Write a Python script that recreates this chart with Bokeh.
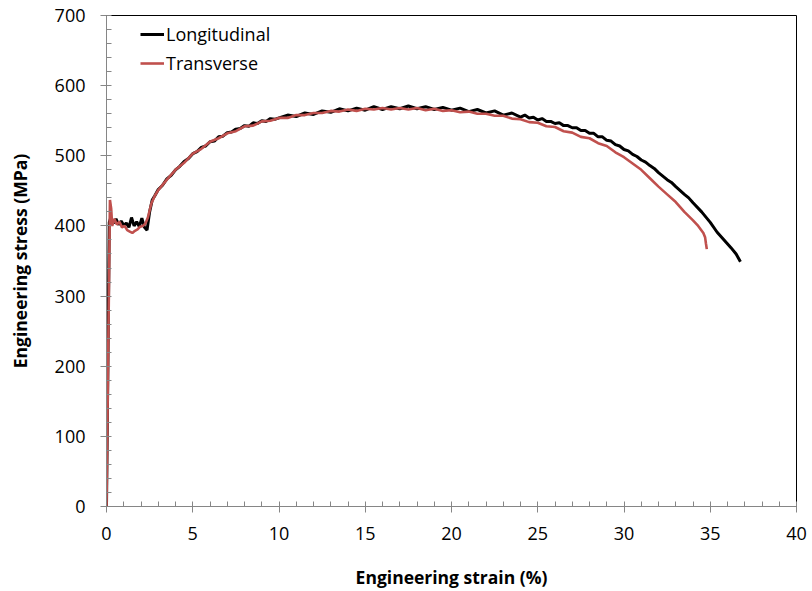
from bokeh.plotting import figure
from bokeh.models import Range1d, Legend, LegendItem, FixedTicker
from bokeh.embed import file_html
from bokeh.resources import INLINE

# Longitudinal (black)
long_strain = [0, 0.08, 0.16, 0.25, 0.4, 0.55, 0.7, 0.85, 1.0, 1.15, 1.3, 1.45, 1.6, 1.75, 1.9,
               2.05, 2.2, 2.35, 2.5, 2.65, 2.8, 3.0, 3.25, 3.5, 3.75, 4.0, 4.25, 4.5, 4.75, 5.0,
               5.25, 5.5, 5.75, 6.0, 6.25, 6.5, 6.75, 7.0, 7.25, 7.5, 7.75, 8.0, 8.25, 8.5, 8.75,
               9.0, 9.25, 9.5, 9.75, 10.0, 10.5, 11.0, 11.5, 12.0, 12.5, 13.0, 13.5, 14.0, 14.5,
               15.0, 15.5, 16.0, 16.5, 17.0, 17.5, 18.0, 18.5, 19.0, 19.5, 20.0, 20.5, 21.0, 21.5,
               22.0, 22.5, 23.0, 23.5,
               24.0, 24.25, 24.5, 24.75, 25.0, 25.25, 25.5, 25.75, 26.0, 26.25, 26.5, 26.75,
               27.0, 27.25, 27.5, 27.75, 28.0, 28.25, 28.5, 28.75, 29.0, 29.25, 29.5, 29.75,
               30.0, 30.25, 30.5, 30.75, 31.0, 31.25, 31.5, 31.75, 32.0, 32.5, 32.75, 33.0,
               33.5, 33.75, 34.0, 34.5, 35.0, 35.4, 35.8, 36.2, 36.5, 36.75]
long_stress = [0, 200, 405, 412, 404, 410, 402, 407, 401, 404, 398, 412, 400, 406, 399,
               411, 398, 394, 420, 437, 443, 452, 458, 467, 472, 480, 485, 492, 496, 503,
               506, 512, 514, 520, 521, 527, 528, 533, 534, 538, 539, 543, 542, 547, 546,
               550, 549, 553, 552, 554, 558, 556, 561, 559, 564, 562, 567, 564, 568,
               565, 570, 566, 570, 567, 571, 567, 570, 566, 569, 565, 568, 563, 566,
               561, 564, 558, 561,
               555, 558, 554, 555, 551, 553, 549, 549, 546, 547, 543, 543,
               540, 540, 536, 536, 532, 532, 527, 527, 522, 521, 516, 514,
               509, 507, 502, 499, 494, 491, 486, 482, 476, 466, 462, 456,
               445, 440, 433, 420, 405, 391, 380, 369, 360, 349]

# Transverse (red)
trans_strain = [0, 0.1, 0.2, 0.27, 0.33, 0.45, 0.6, 0.75, 0.9, 1.05, 1.2, 1.35, 1.5, 1.65, 1.8,
                1.95, 2.1, 2.25, 2.4, 2.6, 2.8, 3.0, 3.5, 4.0, 4.5, 5.0, 5.5, 6.0, 6.5, 7.0,
                7.5, 8.0, 8.5, 9.0, 9.5, 10.0, 10.5, 11.0, 11.5, 12.0, 12.5, 13.0, 13.5, 14.0,
                14.5, 15.0, 15.5, 16.0, 16.5, 17.0, 17.5, 18.0, 18.5, 19.0, 19.5, 20.0, 20.5,
                21.0, 21.5, 22.0, 22.5, 23.0, 23.5, 24.0, 24.5, 25.0, 25.5, 26.0, 26.5, 27.0,
                27.5, 28.0, 28.5, 29.0, 29.5, 30.0, 30.5, 31.0, 31.5, 32.0, 32.5, 33.0, 33.5,
                34.0, 34.3, 34.6, 34.7, 34.75, 34.8]
trans_stress = [0, 220, 437, 425, 400, 410, 402, 406, 398, 400, 394, 392, 390, 393, 395,
                399, 400, 403, 412, 432, 443, 451, 466, 480, 490, 503, 510, 520, 525, 532,
                535, 542, 543, 549, 550, 554, 554, 558, 558, 561, 561, 564, 563, 566,
                564, 567, 566, 568, 566, 568, 566, 568, 565, 567, 564, 565, 562,
                563, 560, 560, 557, 557, 553, 552, 548, 547, 542, 541, 535, 533,
                527, 525, 518, 514, 505, 498, 489, 480, 468, 456, 445, 434, 420,
                408, 400, 390, 384, 375, 367]

x_ticks = [0, 5, 10, 15, 20, 25, 30, 35, 40]
y_ticks = [0, 100, 200, 300, 400, 500, 600, 700]

p = figure(width=812, height=591, output_backend="svg", toolbar_location=None,
           x_range=Range1d(0, 40), y_range=Range1d(0, 700))
p.min_border_left = 106
p.min_border_right = 16
p.min_border_top = 15
p.min_border_bottom = 84
p.background_fill_color = "white"
p.border_fill_color = "white"
p.outline_line_color = "black"
p.outline_line_width = 1
p.xgrid.visible = False
p.ygrid.visible = False

r_long = p.line(long_strain, long_stress, line_color="black", line_width=3)
r_trans = p.line(trans_strain, trans_stress, line_color="#C0504D", line_width=2.6)

FONT = "Open Sans"
for ax in (p.xaxis[0], p.yaxis[0]):
    ax.axis_line_color = "#868686"
    ax.major_tick_line_color = "#868686"
    ax.minor_tick_line_color = "#868686"
    ax.major_tick_out = 6
    ax.major_tick_in = 0
    ax.minor_tick_in = 5
    ax.minor_tick_out = 0
    ax.major_label_text_font = FONT
    ax.major_label_text_font_size = "18px"
    ax.major_label_text_color = "black"
    ax.axis_label_text_font = FONT
    ax.axis_label_text_font_size = "17.5px"
    ax.axis_label_text_font_style = "bold"
    ax.axis_label_text_color = "black"

p.xaxis[0].ticker = FixedTicker(ticks=x_ticks, minor_ticks=list(range(0, 41)))
p.yaxis[0].ticker = FixedTicker(ticks=y_ticks, minor_ticks=list(range(0, 701, 20)))
p.xaxis[0].axis_label = "Engineering strain (%)"
p.yaxis[0].axis_label = "Engineering stress (MPa)"
p.xaxis[0].major_label_standoff = 14
p.yaxis[0].major_label_standoff = 15
p.xaxis[0].axis_label_standoff = 22
p.yaxis[0].axis_label_standoff = 20

legend = Legend(items=[LegendItem(label="Longitudinal", renderers=[r_long]),
                       LegendItem(label="Transverse", renderers=[r_trans])],
                location=(34, 431))
legend.border_line_color = None
legend.background_fill_alpha = 0
legend.padding = 0
legend.spacing = 5
legend.glyph_width = 24
legend.glyph_height = 20
legend.label_height = 20
legend.label_standoff = 2
legend.label_text_font = FONT
legend.label_text_font_size = "18px"
legend.label_text_color = "black"
p.add_layout(legend, "center")

open("out.html", "w").write(file_html(p, INLINE))
